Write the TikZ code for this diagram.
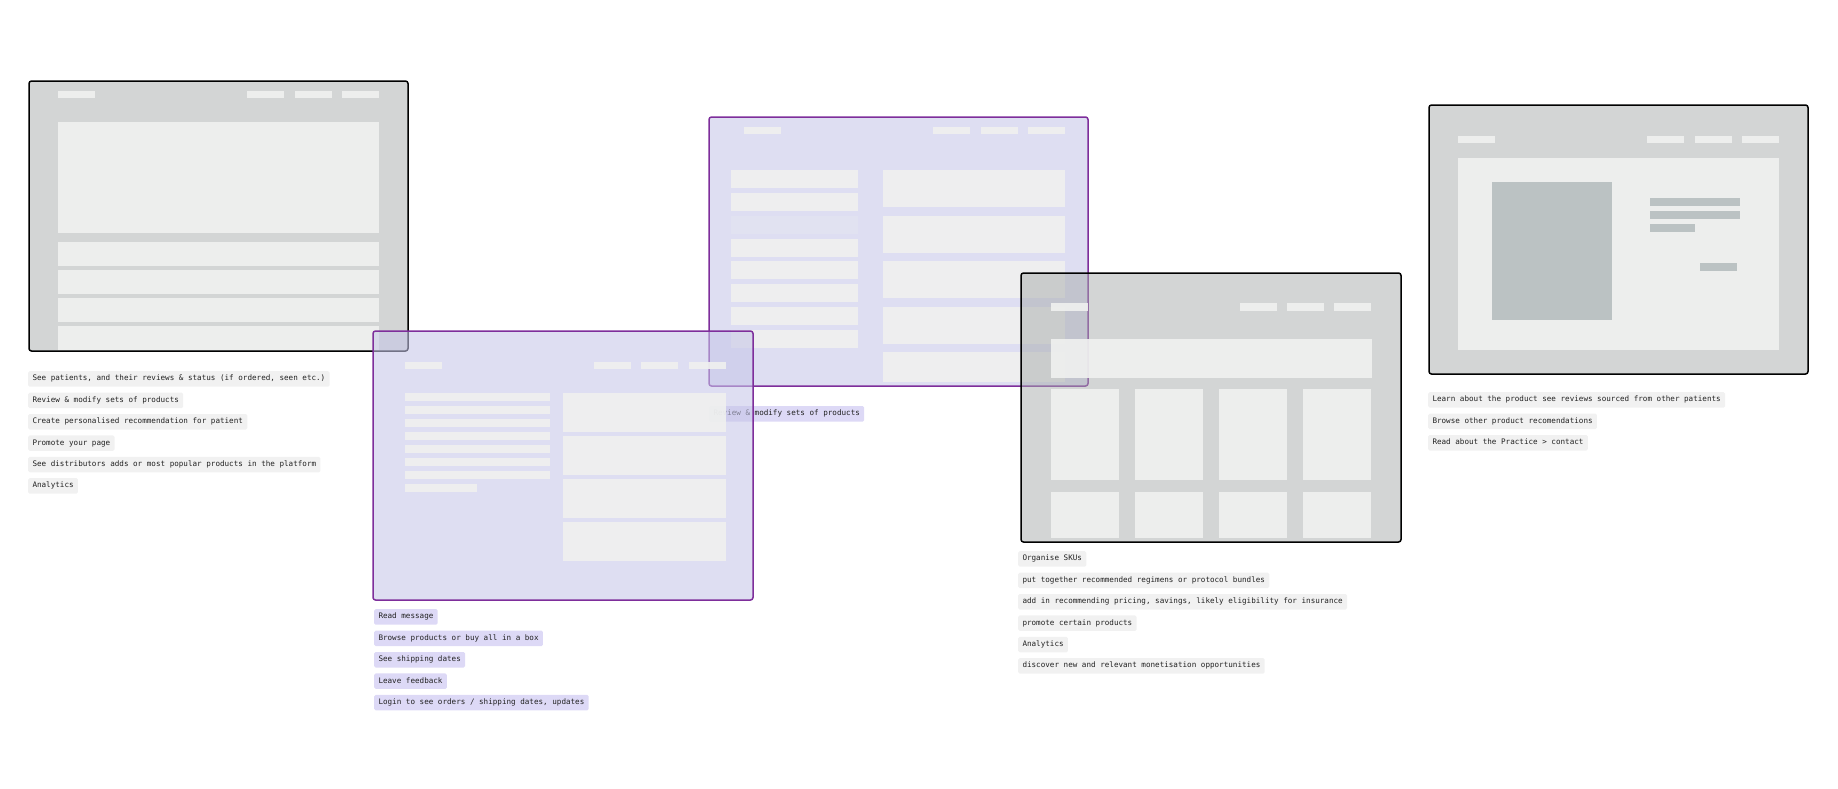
\documentclass[tikz,border=0pt]{standalone}
\usepackage{fontspec}
\setmonofont{DejaVu Sans Mono}
\usetikzlibrary{positioning}

\definecolor{scrgray}{RGB}{167,171,171}
\definecolor{scrviolet}{RGB}{198,198,232}
\definecolor{boxlight}{RGB}{239,240,239}
\definecolor{imggray}{RGB}{187,194,195}
\definecolor{edgeviolet}{RGB}{126,46,155}
\definecolor{taggray}{RGB}{241,241,241}
\definecolor{tagviolet}{RGB}{221,217,246}
\definecolor{tagtext}{RGB}{34,34,34}

\tikzset{
  screen/.style={draw=black, line width=1.5pt, rounded corners=2.5pt, fill=scrgray, fill opacity=0.5},
  vscreen/.style={screen, draw=edgeviolet, fill=scrviolet, fill opacity=0.58},
  blk/.style={fill=boxlight, fill opacity=0.92},
  imgblk/.style={fill=imggray},
  tag/.style={fill=taggray, text=tagtext, font=\ttfamily\fontsize{7.6}{9}\selectfont,
    inner xsep=4.3pt, inner ysep=0pt, text height=5.8pt, text depth=1.8pt,
    minimum height=15.5pt, rounded corners=1.5pt, anchor=north west},
  vtag/.style={tag, fill=tagviolet},
}

\begin{document}
\begin{tikzpicture}[x=1pt, y=-1pt]
  \useasboundingbox (0,0) rectangle (1838,788);

  % practitioner dashboard
  \draw[screen] (29,81) rectangle (408,351);
  \fill[blk] (58,91) rectangle ++(37,7);
  \foreach \x in {247,295,342} \fill[blk] (\x,91) rectangle ++(37,7);
  \fill[blk] (58,122) rectangle (379,233);
  \foreach \y in {242,270,298,326} \fill[blk] (58,\y) rectangle ++(321,24);

  \node[tag] (d1) at (28,371) {See patients, and their reviews \& status (if ordered, seen etc.)};
  \node[tag, below right=5.5pt and 0pt of d1.south west] (d2) {Review \& modify sets of products};
  \node[tag, below right=5.5pt and 0pt of d2.south west] (d3) {Create personalised recommendation for patient};
  \node[tag, below right=5.5pt and 0pt of d3.south west] (d4) {Promote your page};
  \node[tag, below right=5.5pt and 0pt of d4.south west] (d5) {See distributors adds or most popular products in the platform};
  \node[tag, below right=5.5pt and 0pt of d5.south west] (d6) {Analytics};

  % product sets
  \draw[vscreen] (709,117) rectangle (1088,386);
  \fill[blk] (744,127) rectangle ++(37,7);
  \foreach \x in {933,981,1028} \fill[blk] (\x,127) rectangle ++(37,7);
  \foreach \y in {170,193,239,261,284,307,330} \fill[blk] (731,\y) rectangle ++(127,18);
  \fill[blk, fill opacity=0.25] (731,216) rectangle ++(127,18);
  \foreach \y in {170,216,261,307} \fill[blk] (883,\y) rectangle ++(182,37);
  \fill[blk] (883,352) rectangle ++(182,30);

  \node[vtag] (s1) at (709,406) {Review \& modify sets of products};

  % distributor catalogue
  \draw[screen] (1021,273) rectangle (1401,542);
  \fill[blk] (1051,303) rectangle ++(37,8);
  \foreach \x in {1240,1287,1334} \fill[blk] (\x,303) rectangle ++(37,8);
  \fill[blk] (1051,339) rectangle (1372,378);
  \foreach \x in {1051,1135,1219,1303} {
    \fill[blk] (\x,389) rectangle ++(68,91);
    \fill[blk] (\x,492) rectangle ++(68,46);
  }

  % patient page
  \draw[vscreen] (373,331) rectangle (753,600);
  \fill[blk] (405,362) rectangle ++(37,7);
  \foreach \x in {594,641,689} \fill[blk] (\x,362) rectangle ++(37,7);
  \foreach \y in {393,406,419,432,445,458,471} \fill[blk] (405,\y) rectangle ++(145,8);
  \fill[blk] (405,484) rectangle ++(72,8);
  \foreach \y in {393,436,479,522} \fill[blk] (563,\y) rectangle ++(163,39);

  \node[vtag] (p1) at (374,609) {Read message};
  \node[vtag, below right=5.5pt and 0pt of p1.south west] (p2) {Browse products or buy all in a box};
  \node[vtag, below right=5.5pt and 0pt of p2.south west] (p3) {See shipping dates};
  \node[vtag, below right=5.5pt and 0pt of p3.south west] (p4) {Leave feedback};
  \node[vtag, below right=5.5pt and 0pt of p4.south west] (p5) {Login to see orders / shipping dates, updates};

  \node[tag] (c1) at (1018,551) {Organise SKUs};
  \node[tag, below right=5.5pt and 0pt of c1.south west] (c2) {put together recommended regimens or protocol bundles};
  \node[tag, below right=5.5pt and 0pt of c2.south west] (c3) {add in recommending pricing, savings, likely eligibility for insurance};
  \node[tag, below right=5.5pt and 0pt of c3.south west] (c4) {promote certain products};
  \node[tag, below right=5.5pt and 0pt of c4.south west] (c5) {Analytics};
  \node[tag, below right=5.5pt and 0pt of c5.south west] (c6) {discover new and relevant monetisation opportunities};

  % product detail
  \draw[screen] (1429,105) rectangle (1808,374);
  \fill[blk] (1458,136) rectangle ++(37,7);
  \foreach \x in {1647,1695,1742} \fill[blk] (\x,136) rectangle ++(37,7);
  \fill[blk] (1458,158) rectangle (1779,350);
  \fill[imgblk] (1492,182) rectangle (1612,320);
  \fill[imgblk] (1650,198) rectangle ++(90,8);
  \fill[imgblk] (1650,211) rectangle ++(90,8);
  \fill[imgblk] (1650,224) rectangle ++(45,8);
  \fill[imgblk] (1700,263) rectangle ++(37,8);

  \node[tag] (r1) at (1428,392) {Learn about the product see reviews sourced from other patients};
  \node[tag, below right=5.5pt and 0pt of r1.south west] (r2) {Browse other product recomendations};
  \node[tag, below right=5.5pt and 0pt of r2.south west] (r3) {Read about the Practice > contact};
\end{tikzpicture}
\end{document}
